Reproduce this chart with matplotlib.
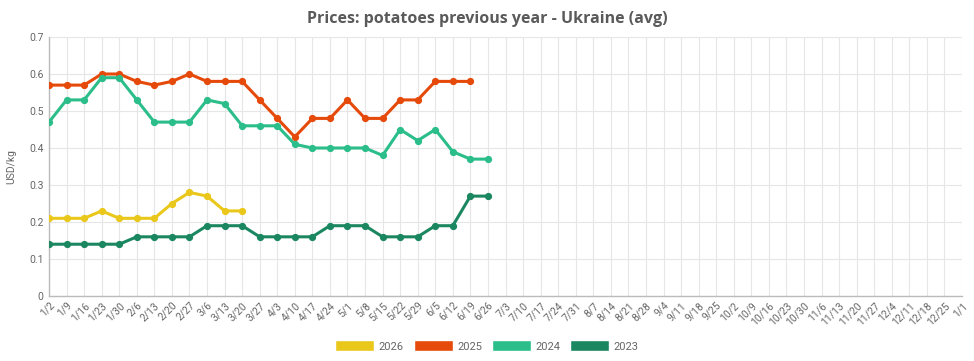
import matplotlib
matplotlib.use("Agg")
import matplotlib.pyplot as plt
from matplotlib.patches import Patch

weeks = ["1/2","1/9","1/16","1/23","1/30","2/6","2/13","2/20","2/27","3/6","3/13","3/20","3/27",
         "4/3","4/10","4/17","4/24","5/1","5/8","5/15","5/22","5/29","6/5","6/12","6/19","6/26",
         "7/3","7/10","7/17","7/24","7/31","8/7","8/14","8/21","8/28","9/4","9/11","9/18","9/25",
         "10/2","10/9","10/16","10/23","10/30","11/6","11/13","11/20","11/27","12/4","12/11",
         "12/18","12/25","1/1"]

y2026 = [0.21,0.21,0.21,0.23,0.21,0.21,0.21,0.25,0.28,0.27,0.23,0.23]
y2025 = [0.57,0.57,0.57,0.60,0.60,0.58,0.57,0.58,0.60,0.58,0.58,0.58,0.53,0.48,0.43,0.48,0.48,
         0.53,0.48,0.48,0.53,0.53,0.58,0.58,0.58]
y2024 = [0.47,0.53,0.53,0.59,0.59,0.53,0.47,0.47,0.47,0.53,0.52,0.46,0.46,0.46,0.41,0.40,0.40,
         0.40,0.40,0.38,0.45,0.42,0.45,0.39,0.37,0.37]
y2023 = [0.14,0.14,0.14,0.14,0.14,0.16,0.16,0.16,0.16,0.19,0.19,0.19,0.16,0.16,0.16,0.16,0.19,
         0.19,0.19,0.16,0.16,0.16,0.19,0.19,0.27,0.27]

series = [("2026", y2026, "#E9C81B"), ("2025", y2025, "#E64A0B"),
          ("2024", y2024, "#2BBE8B"), ("2023", y2023, "#1B8761")]

plt.rcParams['font.family'] = ['Roboto', 'DejaVu Sans']

fig = plt.figure(figsize=(9.74, 3.61), dpi=100)
ax = fig.add_axes([0.0503, 0.180, 0.9374, 0.7175])

for name, vals, col in series:
    ax.plot(range(len(vals)), vals, color=col, lw=2.2, marker='o', ms=4.2,
            solid_joinstyle='round', zorder=3)

ax.set_xlim(0, len(weeks) - 1)
ax.set_ylim(0, 0.7)
ax.set_xticks(range(len(weeks)))
ax.set_xticklabels(weeks, rotation=45, ha='right', rotation_mode='anchor',
                   fontsize=7.5, color='#666666')
ax.set_yticks([0, 0.1, 0.2, 0.3, 0.4, 0.5, 0.6, 0.7])
ax.set_yticklabels(["0", "0.1", "0.2", "0.3", "0.4", "0.5", "0.6", "0.7"],
                   fontsize=7.5, color='#666666')
ax.tick_params(axis='both', length=0, pad=4)
ax.tick_params(axis='x', pad=3)
ax.grid(True, color='#e6e6e6', lw=0.8, zorder=0)
for s in ['top', 'right']:
    ax.spines[s].set_visible(False)
for s in ['left', 'bottom']:
    ax.spines[s].set_color('#bbbbbb')
    ax.spines[s].set_linewidth(1.0)

ax.set_ylabel("USD/kg", fontsize=7.5, color='#666666')
ax.yaxis.set_label_coords(-0.036, 0.5)

fig.text(0.5, 0.948, "Prices: potatoes previous year - Ukraine (avg)", ha='center', va='center',
         fontsize=11.5, fontweight='bold', color='#5a5a5a', family=['Open Sans', 'DejaVu Sans'])

handles = [Patch(facecolor=c, edgecolor='white', label=n) for n, v, c in series]
leg = fig.legend(handles=handles, loc='center', bbox_to_anchor=(0.5, 1 - 346 / 361), ncol=4,
                 frameon=False, fontsize=8, handlelength=3.5, handleheight=1.1,
                 handletextpad=0.4, columnspacing=0.9, labelcolor='#666666')

fig.savefig("out.png", dpi=100)
